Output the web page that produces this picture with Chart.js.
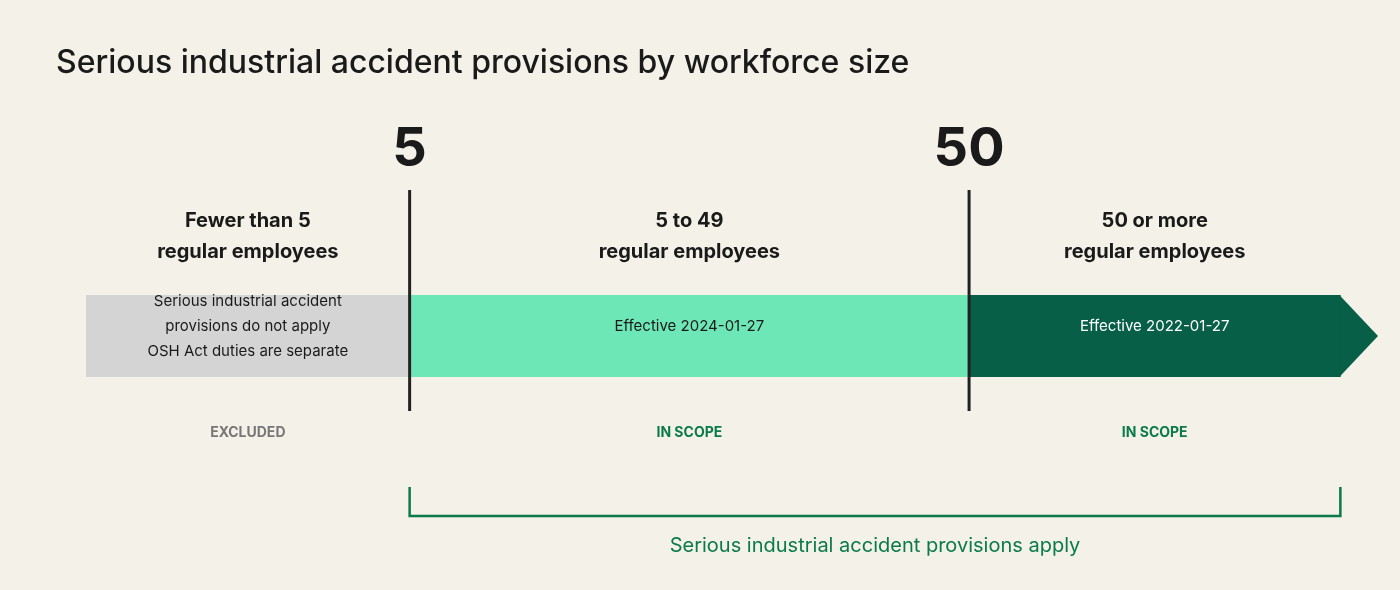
<!DOCTYPE html>
<html>
<head>
<meta charset="utf-8">
<script src="https://cdn.jsdelivr.net/npm/chart.js@4"></script>
<style>
  html, body { margin: 0; padding: 0; background: #f4f1e8; }
  #wrap { position: relative; width: 1400px; height: 590px; }
</style>
</head>
<body>
<div id="wrap"><canvas id="c" width="1400" height="590"></canvas></div>
<script>
// segments along the workforce axis (abstract units, 0..100 = bar body, arrow tip beyond)
const segmentNames = ['Fewer than 5', '5 to 49', '50 or more'];
const segmentRanges = [[0, 25.8], [25.8, 70.4], [70.4, 100]];
const segmentColors = ['#d4d4d4', '#6ee7b7', '#065f46'];
const headerLines = [['Fewer than 5', 'regular employees'], ['5 to 49', 'regular employees'], ['50 or more', 'regular employees']];
const innerLines = [['Serious industrial accident', 'provisions do not apply', 'OSH Act duties are separate'], ['Effective 2024-01-27'], ['Effective 2022-01-27']];
const innerColors = ['#1a1a1a', '#1a1a1a', '#ffffff'];
const statusLabels = ['EXCLUDED', 'IN SCOPE', 'IN SCOPE'];
const statusColors = ['#777777', '#0b7a4b', '#0b7a4b'];
const thresholds = [25.8, 70.4];
const thresholdLabels = ['5', '50'];
const arrowTip = 103;
const bracketRange = [25.8, 100];

const FONT = 'Inter, "Noto Sans", sans-serif';
const GREEN = '#0b7a4b';

const overlay = {
  id: 'overlay',
  afterDatasetsDraw(chart) {
    const { ctx, scales: { x }, chartArea: a } = chart;
    const cx = (r) => (x.getPixelForValue(r[0]) + x.getPixelForValue(r[1])) / 2;
    ctx.save();
    // arrow head
    const xe = x.getPixelForValue(100), xt = x.getPixelForValue(arrowTip);
    ctx.fillStyle = segmentColors[2];
    ctx.beginPath();
    ctx.moveTo(xe - 1, a.top); ctx.lineTo(xt, (a.top + a.bottom) / 2); ctx.lineTo(xe - 1, a.bottom);
    ctx.closePath(); ctx.fill();

    // title
    ctx.fillStyle = '#1a1a1a';
    ctx.textBaseline = 'middle';
    ctx.textAlign = 'left';
    ctx.font = '500 32px ' + FONT;
    ctx.fillText('Serious industrial accident provisions by workforce size', 56, 63);

    ctx.textAlign = 'center';
    // thresholds
    thresholds.forEach((t, i) => {
      const px = x.getPixelForValue(t);
      ctx.strokeStyle = '#222'; ctx.lineWidth = 3;
      ctx.beginPath(); ctx.moveTo(px, 190); ctx.lineTo(px, 411); ctx.stroke();
      ctx.fillStyle = '#1a1a1a';
      ctx.font = 'bold 54px ' + FONT;
      ctx.fillText(thresholdLabels[i], px, 150);
    });

    segmentRanges.forEach((r, i) => {
      const m = cx(r);
      ctx.fillStyle = '#1a1a1a';
      ctx.font = 'bold 20px ' + FONT;
      headerLines[i].forEach((l, j) => ctx.fillText(l, m, 221 + j * 31));
      ctx.fillStyle = innerColors[i];
      ctx.font = '15px ' + FONT;
      innerLines[i].forEach((l, j) => ctx.fillText(l, m, 301 + j * 25 + (innerLines[i].length === 1 ? 25 : 0)));
      ctx.fillStyle = statusColors[i];
      ctx.font = 'bold 14px ' + FONT;
      ctx.fillText(statusLabels[i], m, 433);
    });

    // bracket
    const b0 = x.getPixelForValue(bracketRange[0]), b1 = x.getPixelForValue(bracketRange[1]);
    ctx.strokeStyle = GREEN; ctx.lineWidth = 2.5;
    ctx.beginPath();
    ctx.moveTo(b0, 487); ctx.lineTo(b0, 516); ctx.lineTo(b1, 516); ctx.lineTo(b1, 487);
    ctx.stroke();
    ctx.fillStyle = GREEN;
    ctx.font = '20px ' + FONT;
    ctx.fillText('Serious industrial accident provisions apply', (b0 + b1) / 2, 546);
    ctx.restore();
  }
};

new Chart(document.getElementById('c'), {
  type: 'bar',
  data: {
    labels: ['workforce'],
    datasets: segmentRanges.map((r, i) => ({
      label: segmentNames[i],
      data: [r],
      backgroundColor: segmentColors[i],
      borderWidth: 0,
      barPercentage: 1,
      categoryPercentage: 1,
      grouped: false,
    })),
  },
  options: {
    indexAxis: 'y',
    responsive: false,
    animation: false,
    layout: { padding: { left: 86, right: 22, top: 295, bottom: 213 } },
    scales: {
      x: { type: 'linear', min: 0, max: arrowTip, display: false },
      y: { display: false },
    },
    plugins: { legend: { display: false }, tooltip: { enabled: false } },
  },
  plugins: [overlay],
});
</script>
</body>
</html>
